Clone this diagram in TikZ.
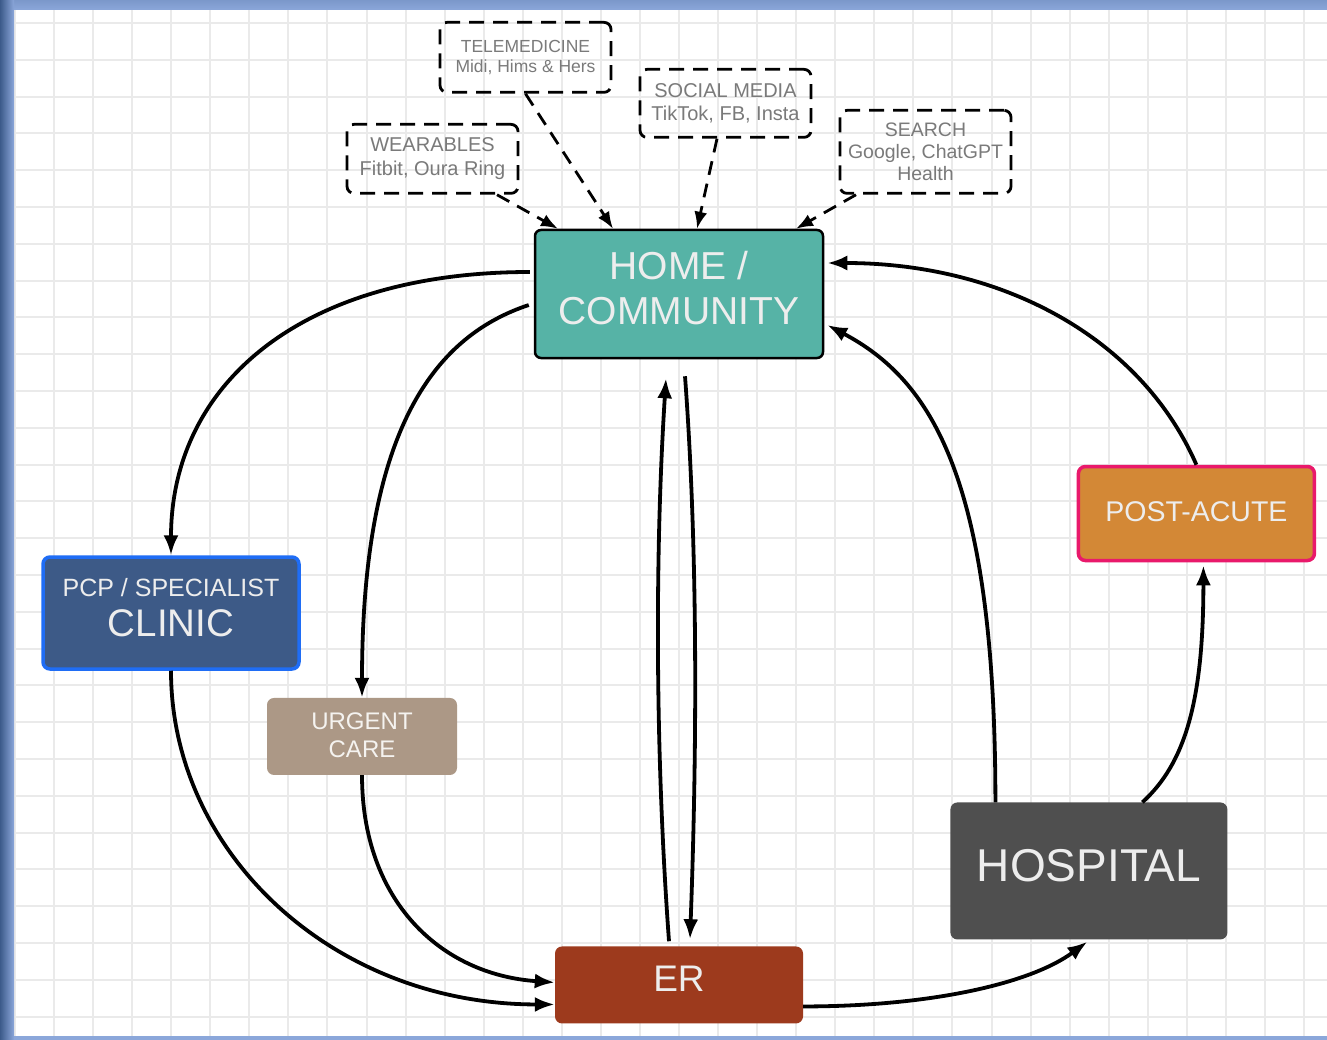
\documentclass[tikz,border=0pt]{standalone}
\usepackage{fontspec}
\setmainfont{Liberation Sans}
\usetikzlibrary{arrows.meta,positioning}

\definecolor{hometeal}{HTML}{56B3A6}
\definecolor{clinicblue}{HTML}{3D5A87}
\definecolor{clinicedge}{HTML}{1F6DF5}
\definecolor{urgenttan}{HTML}{AC9886}
\definecolor{errust}{HTML}{9D3A1D}
\definecolor{hospgray}{HTML}{4F4F4F}
\definecolor{postorange}{HTML}{D38836}
\definecolor{postedge}{HTML}{E9196B}
\definecolor{labelgray}{HTML}{7A7A7A}
\definecolor{gridgray}{HTML}{EAEAEA}
\definecolor{bandblue}{HTML}{8BA7DA}
\definecolor{banddark}{HTML}{3C5A8A}

\begin{document}
\begin{tikzpicture}[
  x=1pt, y=-1pt,
  site/.style={rounded corners=7pt, align=center, inner sep=0pt, text depth=12pt, text=white!93!black, fill=#1},
  channel/.style={draw, line width=2.8pt, dash pattern=on 15pt off 9pt, rounded corners=7pt, align=center, inner sep=0pt, text=labelgray},
  flow/.style={line width=3.8pt, -{Latex[length=20pt,width=15pt]}},
  feed/.style={line width=2.8pt, dash pattern=on 14pt off 9pt, -{Latex[length=17pt,width=13pt]}},
  gridline/.style={gridgray, line width=2pt}
]
\useasboundingbox (0,0) rectangle (1327,1040);
\fill[white] (0,0) rectangle (1327,1040);
\foreach \gx in {0,...,33} \draw[gridline] ({15+39.06*\gx},10) -- ({15+39.06*\gx},1036);
\foreach \gy in {0,...,27} \draw[gridline] (14,{23+36.8*\gy}) -- (1327,{23+36.8*\gy});
\shade[top color=bandblue!80!banddark, bottom color=bandblue] (0,0) rectangle (1327,10);
\fill[bandblue] (0,1036) rectangle (1327,1040);
\shade[left color=banddark, right color=bandblue] (0,0) rectangle (14,1040);

\node[site=hometeal, draw=black, line width=2.5pt, rounded corners=6pt, minimum width=288pt, minimum height=128pt,
  font=\fontsize{39}{45}\selectfont] (home) at (679,294) {HOME /\\COMMUNITY};
\node[site=errust, minimum width=248pt, minimum height=77pt, font=\fontsize{37}{40}\selectfont,
  below=587pt of home] (er) {ER};
\node[site=clinicblue, draw=clinicedge, line width=3.5pt, minimum width=256pt, minimum height=112pt,
  font=\fontsize{38.5}{40}\selectfont, below=196pt of home, xshift=-508pt] (clinic)
  {{\fontsize{25}{30}\selectfont PCP / SPECIALIST}\\CLINIC};
\node[site=urgenttan, text=white!88!urgenttan, text depth=2pt, minimum width=190pt, minimum height=77pt,
  font=\fontsize{24}{28}\selectfont, below=27pt of clinic, xshift=191pt] (urgent) {URGENT\\CARE};
\node[site=hospgray, minimum width=277pt, minimum height=137pt, font=\fontsize{46}{50}\selectfont,
  right=147pt of er, yshift=114pt] (hospital) {HOSPITAL};
\node[site=postorange, draw=postedge, line width=3.5pt, text depth=4pt, minimum width=236pt, minimum height=94pt,
  font=\fontsize{28.5}{32}\selectfont, above=240pt of hospital, xshift=107.5pt] (post) {POST-ACUTE};

\node[channel, minimum width=171pt, minimum height=70pt, font=\fontsize{17.5}{20}\selectfont,
  above=135pt of home, xshift=-153.5pt] (tele) {TELEMEDICINE\\Midi, Hims \& Hers};
\node[channel, minimum width=171pt, minimum height=68pt, font=\fontsize{20}{23}\selectfont,
  above=90pt of home, xshift=46.5pt] (social) {SOCIAL MEDIA\\TikTok, FB, Insta};
\node[channel, minimum width=171pt, minimum height=69pt, font=\fontsize{20}{24}\selectfont,
  above=34pt of home, xshift=-246.5pt] (wear) {WEARABLES\\Fitbit, Oura Ring};
\node[channel, minimum width=171pt, minimum height=83pt, font=\fontsize{19.5}{22}\selectfont,
  above=34pt of home, xshift=246.5pt] (search) {SEARCH\\Google, ChatGPT\\Health};

\draw[feed] ([xshift=64.5pt]wear.south) -- ([xshift=-121pt]home.north);
\draw[feed] (tele.south) -- ([xshift=-66pt]home.north);
\draw[feed] ([xshift=-8.5pt]social.south) -- ([xshift=18pt]home.north);
\draw[feed] ([xshift=-69.5pt]search.south) -- ([xshift=117pt]home.north);

\draw[flow] ([xshift=-4pt,yshift=22pt]home.west) .. controls +(-230,0) and +(0,-170) .. (clinic.north);
\draw[flow] ([xshift=-5pt,yshift=-11pt]home.west) .. controls +(-90,30) and +(0,-275) .. (urgent.north);
\draw[flow] (clinic.south) .. controls +(0,182) and +(-222,0) .. ([yshift=-19.5pt]er.west);
\draw[flow] (urgent.south) .. controls +(0,125) and +(-115,-8) .. ([yshift=2.5pt]er.west);
\draw[flow] ([xshift=-10pt,yshift=5pt]er.north) .. controls +(-14,-192) and +(-11,173) .. ([xshift=-13pt,yshift=-19pt]home.south);
\draw[flow] ([xshift=6pt,yshift=-17pt]home.south) .. controls +(13,175) and +(7,-190) .. ([xshift=11pt,yshift=7pt]er.north);
\draw[flow] ([yshift=-21.5pt]er.east) .. controls +(127,0) and +(-57,42) .. ([xshift=-1.5pt,yshift=-2pt]hospital.south);
\draw[flow] ([xshift=-93.5pt]hospital.north) .. controls +(0,-324) and +(104,55) .. ([xshift=3pt,yshift=-31pt]home.east);
\draw[flow] ([xshift=53.5pt]hospital.north) .. controls +(43,-39) and +(0,135) .. ([xshift=7pt,yshift=-3pt]post.south);
\draw[flow] (post.north) .. controls +(-56,-128) and +(174,0) .. ([xshift=3pt,yshift=31pt]home.east);

\end{tikzpicture}
\end{document}
